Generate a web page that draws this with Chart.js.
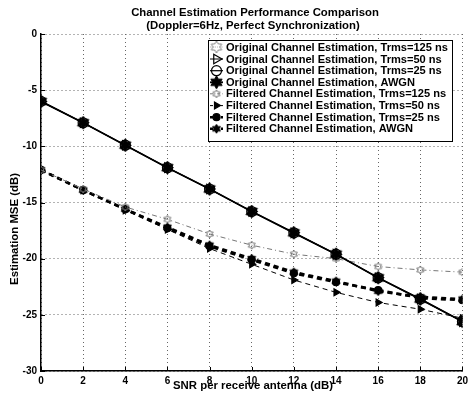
<!DOCTYPE html>
<html><head><meta charset="utf-8">
<script src="https://cdn.jsdelivr.net/npm/chart.js@4/dist/chart.umd.min.js"></script>
<style>html,body{margin:0;padding:0;background:#fff}canvas{display:block}</style>
</head><body>
<canvas id="c" width="472" height="396"></canvas>
<script>
const titleLines = ['Channel Estimation Performance Comparison', '(Doppler=6Hz, Perfect Synchronization)'];
const xAxisTitle = 'SNR per receive antenna (dB)';
const yAxisTitle = 'Estimation MSE (dB)';
const snr = [0, 2, 4, 6, 8, 10, 12, 14, 16, 18, 20];
const xTicks = [0, 2, 4, 6, 8, 10, 12, 14, 16, 18, 20];
const yTicks = [0, -5, -10, -15, -20, -25, -30];
const seriesLabels = [
  'Original Channel Estimation, Trms=125 ns',
  'Original Channel Estimation, Trms=50 ns',
  'Original Channel Estimation, Trms=25 ns',
  'Original Channel Estimation, AWGN',
  'Filtered Channel Estimation, Trms=125 ns',
  'Filtered Channel Estimation, Trms=50 ns',
  'Filtered Channel Estimation, Trms=25 ns',
  'Filtered Channel Estimation, AWGN'
];
const origT125 = [-6.0, -7.9, -9.9, -11.9, -13.8, -15.8, -17.7, -19.6, -21.7, -23.6, -25.6];
const origT50  = [-6.0, -7.9, -9.9, -11.9, -13.8, -15.8, -17.7, -19.6, -21.7, -23.6, -25.6];
const origT25  = [-6.0, -7.9, -9.9, -11.9, -13.8, -15.8, -17.7, -19.6, -21.7, -23.6, -25.6];
const origAWGN = [-6.0, -7.9, -9.9, -11.9, -13.8, -15.8, -17.7, -19.6, -21.7, -23.6, -25.6];
const filtT125 = [-12.1, -13.8, -15.4, -16.5, -17.8, -18.8, -19.6, -20.0, -20.7, -21.0, -21.2];
const filtT50  = [-12.1, -13.9, -15.7, -17.4, -19.1, -20.5, -21.9, -23.0, -23.9, -24.5, -25.3];
const filtT25  = [-12.1, -13.9, -15.6, -17.3, -18.9, -20.1, -21.3, -22.1, -22.8, -23.5, -23.7];
const filtAWGN = [-12.1, -13.9, -15.6, -17.2, -18.8, -20.0, -21.2, -22.0, -22.9, -23.4, -23.6];

const FONT = '"Liberation Sans", Arial, sans-serif';

function hexagram(r, fill, stroke) {
  const s = Math.ceil(2 * r + 4);
  const c = document.createElement('canvas');
  c.width = s; c.height = s;
  const g = c.getContext('2d');
  g.translate(s / 2, s / 2);
  g.beginPath();
  for (let i = 0; i < 12; i++) {
    const a = Math.PI / 6 * i - Math.PI / 2;
    const rr = i % 2 === 0 ? r : r * 0.58;
    g.lineTo(rr * Math.cos(a), rr * Math.sin(a));
  }
  g.closePath();
  if (fill) { g.fillStyle = fill; g.fill(); }
  if (stroke) { g.strokeStyle = stroke; g.lineWidth = 1; g.stroke(); }
  return c;
}

const styles = [
  {color: '#8a8a8a', width: 1, dash: [1, 2], point: hexagram(6, null, '#8a8a8a'), radius: 6, fill: false, rot: 0, order: 2},
  {color: '#000', width: 1, dash: [], point: 'triangle', radius: 5.5, fill: false, rot: 90, order: 1},
  {color: '#000', width: 1.2, dash: [], point: 'circle', radius: 5, fill: false, rot: 0, order: 1},
  {color: '#000', width: 1.8, dash: [], point: hexagram(6.5, '#000', '#000'), radius: 6.5, fill: true, rot: 0, order: 0},
  {color: '#777', width: 1, dash: [5, 3, 1, 3], point: hexagram(4, null, '#777'), radius: 4, fill: false, rot: 0, order: 3},
  {color: '#000', width: 1, dash: [5, 4], point: 'triangle', radius: 4, fill: true, rot: 90, order: 3},
  {color: '#000', width: 2.6, dash: [5, 4], point: 'circle', radius: 3.5, fill: true, rot: 0, order: 3},
  {color: '#000', width: 2.6, dash: [5, 4], point: hexagram(4.5, '#000', '#000'), radius: 4.5, fill: true, rot: 0, order: 3}
];
const seriesData = [origT125, origT50, origT25, origAWGN, filtT125, filtT50, filtT25, filtAWGN];

const datasets = seriesData.map((vals, i) => {
  const s = styles[i];
  return {
    label: seriesLabels[i],
    data: snr.map((x, k) => ({x: x, y: vals[k]})),
    borderColor: s.color,
    borderWidth: s.width,
    borderDash: s.dash,
    tension: 0,
    fill: false,
    pointStyle: s.point,
    pointRadius: s.radius,
    pointRotation: s.rot,
    pointBorderColor: s.color,
    pointBorderWidth: 1.2,
    pointBackgroundColor: s.fill ? s.color : 'rgba(0,0,0,0)',
    order: s.order
  };
});

function fitFont(ctx, text, target) {
  ctx.font = 'bold 10px ' + FONT;
  const w = ctx.measureText(text).width;
  return 10 * target / w;
}

const decor = {
  id: 'decor',
  afterDraw(chart) {
    const ctx = chart.ctx;
    const ca = chart.chartArea;
    const xs = chart.scales.x, ys = chart.scales.y;
    ctx.save();
    // inward tick marks
    ctx.strokeStyle = '#000'; ctx.lineWidth = 1; ctx.setLineDash([]);
    ctx.beginPath();
    xTicks.forEach(v => { const px = Math.round(xs.getPixelForValue(v)) + 0.5; ctx.moveTo(px, ca.bottom); ctx.lineTo(px, ca.bottom - 4); });
    yTicks.forEach(v => { const py = Math.round(ys.getPixelForValue(v)) + 0.5; ctx.moveTo(ca.left, py); ctx.lineTo(ca.left + 4, py); });
    ctx.stroke();
    // titles
    ctx.fillStyle = '#000';
    ctx.textAlign = 'center'; ctx.textBaseline = 'middle';
    let fs = fitFont(ctx, titleLines[0], 248);
    ctx.font = 'bold ' + fs + 'px ' + FONT;
    ctx.fillText(titleLines[0], 255, 13);
    ctx.fillText(titleLines[1], 253, 25.5);
    // axis titles
    fs = fitFont(ctx, xAxisTitle, 160);
    ctx.font = 'bold ' + fs + 'px ' + FONT;
    ctx.fillText(xAxisTitle, 253, 386);
    ctx.save();
    ctx.translate(15, 229);
    ctx.rotate(-Math.PI / 2);
    fs = fitFont(ctx, yAxisTitle, 112);
    ctx.font = 'bold ' + fs + 'px ' + FONT;
    ctx.fillText(yAxisTitle, 0, 0);
    ctx.restore();
    // legend box
    const bx = 208, by = 40, bw = 244, bh = 101;
    ctx.fillStyle = '#fff';
    ctx.fillRect(bx, by, bw, bh);
    ctx.strokeStyle = '#000'; ctx.lineWidth = 1;
    ctx.strokeRect(bx + 0.5, by + 0.5, bw, bh);
    fs = fitFont(ctx, seriesLabels[0], 222);
    const rowY = [47, 59, 70.7, 82.3, 93.8, 105.6, 117.2, 128.8];
    chart.data.datasets.forEach((ds, i) => {
      const y = rowY[i];
      const s = styles[i];
      ctx.save();
      ctx.strokeStyle = s.color; ctx.lineWidth = s.width; ctx.setLineDash(s.dash.map(d => d * 0.6));
      ctx.beginPath(); ctx.moveTo(210, y); ctx.lineTo(223, y); ctx.stroke();
      ctx.setLineDash([]);
      ctx.fillStyle = s.fill ? s.color : 'rgba(0,0,0,0)';
      ctx.strokeStyle = s.color; ctx.lineWidth = 1.2;
      Chart.helpers.drawPoint(ctx, {pointStyle: s.point, radius: s.radius, rotation: s.rot, borderWidth: 1.2}, 216.5, y);
      ctx.restore();
      ctx.fillStyle = '#000';
      ctx.textAlign = 'left'; ctx.textBaseline = 'middle';
      ctx.font = 'bold ' + fs + 'px ' + FONT;
      ctx.fillText(ds.label, 226, y + 0.5);
    });
    ctx.restore();
  }
};

new Chart(document.getElementById('c'), {
  type: 'line',
  data: {datasets: datasets},
  options: {
    responsive: false,
    animation: false,
    layout: {padding: {top: 34, right: 5, left: 0, bottom: 0}},
    plugins: {legend: {display: false}, title: {display: false}, tooltip: {enabled: false}},
    scales: {
      x: {
        type: 'linear', min: 0, max: 20,
        afterBuildTicks: sc => { sc.ticks = xTicks.map(v => ({value: v})); },
        afterFit: sc => { sc.height = 25; },
        ticks: {color: '#000', font: {family: FONT, size: 10, weight: 'bold'}, padding: 4, maxRotation: 0, autoSkip: false},
        grid: {color: '#666', lineWidth: 1, drawTicks: false},
        border: {display: true, color: '#000', width: 1.5, dash: [1, 3]}
      },
      y: {
        type: 'linear', min: -30, max: 0,
        afterBuildTicks: sc => { sc.ticks = yTicks.map(v => ({value: v})); },
        afterFit: sc => { sc.width = 41; },
        ticks: {color: '#000', font: {family: FONT, size: 10, weight: 'bold'}, padding: 4, autoSkip: false},
        grid: {color: '#666', lineWidth: 1, drawTicks: false},
        border: {display: true, color: '#000', width: 1.5, dash: [1, 3]}
      }
    }
  },
  plugins: [decor]
});
</script>
</body></html>
